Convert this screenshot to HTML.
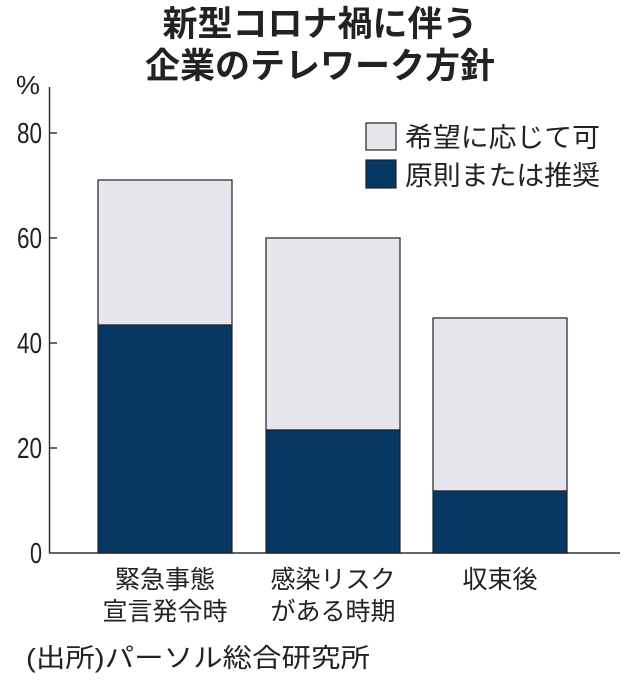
<!DOCTYPE html>
<html><head><meta charset="utf-8"><style>
body{margin:0;background:#fff;}
svg text{font-family:"Liberation Sans","Noto Sans CJK JP",sans-serif;fill:#222;}
</style></head><body>
<svg width="638" height="681" viewBox="0 0 638 681" xmlns="http://www.w3.org/2000/svg">
<text x="320" y="36" font-size="35" font-weight="bold" text-anchor="middle">新型コロナ禍に伴う</text>
<text x="320" y="78" font-size="35" font-weight="bold" text-anchor="middle">企業のテレワーク方針</text>
<text x="16" y="94" font-size="26" textLength="24" lengthAdjust="spacingAndGlyphs">%</text>
<line x1="49.5" y1="87" x2="49.5" y2="553" stroke="#333" stroke-width="1.5"/>
<line x1="49" y1="553" x2="620" y2="553" stroke="#333" stroke-width="1.5"/>
<g stroke="#333" stroke-width="1.5">
<line x1="49" y1="133" x2="57" y2="133"/><line x1="49" y1="238" x2="57" y2="238"/>
<line x1="49" y1="343" x2="57" y2="343"/><line x1="49" y1="448" x2="57" y2="448"/>
</g>
<g font-size="29">
<text x="17" y="143" textLength="25" lengthAdjust="spacingAndGlyphs">80</text>
<text x="17" y="248" textLength="25" lengthAdjust="spacingAndGlyphs">60</text>
<text x="17" y="353" textLength="25" lengthAdjust="spacingAndGlyphs">40</text>
<text x="17" y="458" textLength="25" lengthAdjust="spacingAndGlyphs">20</text>
<text x="30" y="563" textLength="12" lengthAdjust="spacingAndGlyphs">0</text>
</g>
<g stroke="#222" stroke-width="1.2">
<rect x="98" y="180" width="134" height="145" fill="#e6e6ec"/>
<rect x="98" y="325" width="134" height="228" fill="#073763"/>
<rect x="266" y="238" width="134" height="192" fill="#e6e6ec"/>
<rect x="266" y="430" width="134" height="123" fill="#073763"/>
<rect x="433" y="318" width="134" height="173" fill="#e6e6ec"/>
<rect x="433" y="491" width="134" height="62" fill="#073763"/>
<rect x="366" y="123" width="30" height="27" fill="#e6e6ec"/>
<rect x="366" y="160" width="30" height="28" fill="#073763"/>
</g>
<text x="405" y="147" font-size="27" textLength="195" lengthAdjust="spacingAndGlyphs">希望に応じて可</text>
<text x="405" y="185" font-size="27" textLength="195" lengthAdjust="spacingAndGlyphs">原則または推奨</text>
<g font-size="25" text-anchor="middle">
<text x="165" y="588">緊急事態</text><text x="165" y="620">宣言発令時</text>
<text x="333" y="588">感染リスク</text><text x="333" y="620">がある時期</text>
<text x="500" y="588">収束後</text>
</g>
<text x="26" y="667" font-size="26" textLength="344" lengthAdjust="spacingAndGlyphs">(出所)パーソル総合研究所</text>
</svg>
</body></html>
